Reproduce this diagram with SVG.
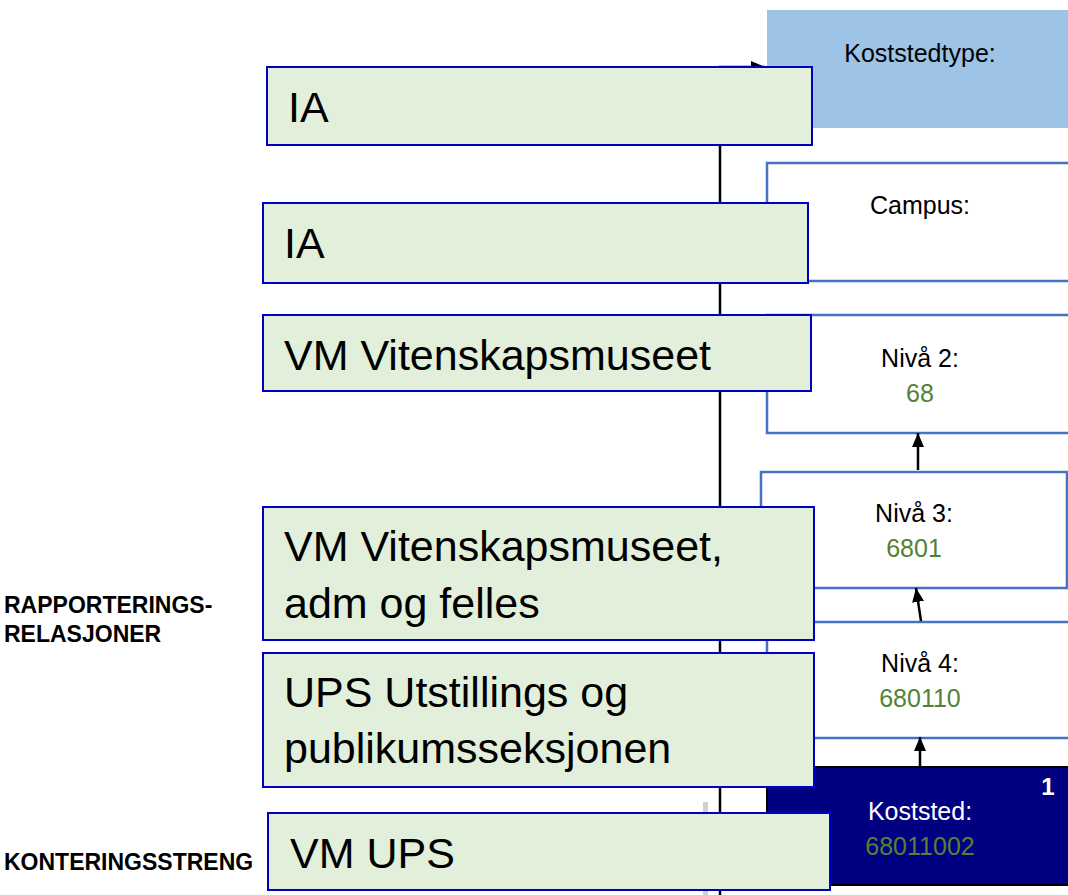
<svg xmlns="http://www.w3.org/2000/svg" width="1068" height="895" viewBox="0 0 1068 895">
<defs>
<marker id="ah" viewBox="0 0 14 12" refX="14" refY="6" markerWidth="14" markerHeight="12" markerUnits="userSpaceOnUse" orient="auto">
<path d="M0,0 L14,6 L0,12 Z" fill="#000"/>
</marker>
</defs>
<style>
.g{fill:#e2efda;stroke:#0000c0;stroke-width:2}
.w{fill:#fff;stroke:#4472c4;stroke-width:2.5}
.big{font-family:"Liberation Sans",Arial,sans-serif;font-size:43px;fill:#000}
.sm{font-family:"Liberation Sans",Arial,sans-serif;font-size:25px;fill:#000;text-anchor:middle}
.num{fill:#548235}
.lbl{font-family:"Liberation Sans",Arial,sans-serif;font-size:23px;font-weight:bold;fill:#000}
.c{fill:none;stroke:#000;stroke-width:2.5}
</style>
<rect width="1068" height="895" fill="#fff"/>

<g id="labels">
<text class="lbl" x="4" y="613">RAPPORTERINGS-</text>
<text class="lbl" x="4" y="642">RELASJONER</text>
<text class="lbl" x="4" y="870">KONTERINGSSTRENG</text>
</g>

<g id="koststedtype">
<rect x="767" y="10" width="310" height="118" fill="#9dc3e6"/>
<text class="sm" x="920" y="62">Koststedtype:</text>
</g>
<g id="campus">
<rect class="w" x="767" y="163" width="310" height="118"/>
<text class="sm" x="920" y="214">Campus:</text>
</g>
<g id="niva2">
<rect class="w" x="767" y="315" width="310" height="118"/>
<text class="sm" x="920" y="367">Nivå 2:</text>
<text class="sm num" x="920" y="402">68</text>
</g>
<g id="niva3">
<rect class="w" x="761" y="472" width="306" height="116"/>
<text class="sm" x="914" y="522">Nivå 3:</text>
<text class="sm num" x="914" y="557">6801</text>
</g>
<g id="niva4">
<rect class="w" x="767" y="622" width="310" height="116"/>
<text class="sm" x="920" y="672">Nivå 4:</text>
<text class="sm num" x="920" y="707">680110</text>
</g>
<g id="koststed">
<rect x="767" y="767" width="310" height="118" fill="#000080" stroke="#000" stroke-width="2"/>
<text class="sm" x="920" y="820" fill="#fff" style="fill:#fff">Koststed:</text>
<text class="sm num" x="920" y="855">68011002</text>
<text x="1048" y="795" text-anchor="middle" font-family="Liberation Sans, Arial, sans-serif" font-size="24" font-weight="bold" fill="#fff">1</text>
</g>

<rect x="703" y="802" width="5" height="93" fill="#d0d0d0"/>

<g id="connectors">
<path class="c" d="M720,895 V67 H765" marker-end="url(#ah)"/>
<path class="c" d="M918,470 V433" marker-end="url(#ah)"/>
<path class="c" d="M921,621 L916,588" marker-end="url(#ah)"/>
<path class="c" d="M920,767 V737" marker-end="url(#ah)"/>
</g>

<g id="ia1">
<rect class="g" x="267" y="67" width="545" height="78"/>
<text class="big" x="288" y="122">IA</text>
</g>
<g id="ia2">
<rect class="g" x="263" y="203" width="545" height="80"/>
<text class="big" x="284" y="258">IA</text>
</g>
<g id="vm">
<rect class="g" x="263" y="315" width="548" height="76"/>
<text class="big" x="284" y="370">VM Vitenskapsmuseet</text>
</g>
<g id="vmadm">
<rect class="g" x="263" y="507" width="551" height="133"/>
<text class="big" x="284" y="561">VM Vitenskapsmuseet,</text>
<text class="big" x="284" y="618">adm og felles</text>
</g>
<g id="ups">
<rect class="g" x="263" y="653" width="551" height="134"/>
<text class="big" x="284" y="707">UPS Utstillings og</text>
<text class="big" x="284" y="763">publikumsseksjonen</text>
</g>
<g id="vmups">
<rect class="g" x="268" y="813" width="562" height="77"/>
<text class="big" x="290" y="868">VM UPS</text>
</g>
</svg>
